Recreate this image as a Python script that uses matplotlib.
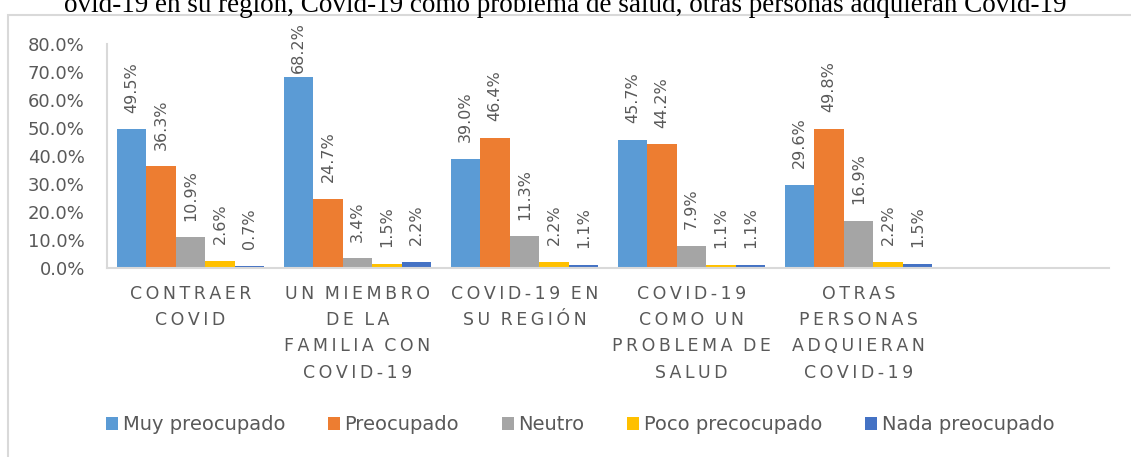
import numpy as np
import matplotlib.pyplot as plt
from matplotlib.patches import Rectangle
from matplotlib.ticker import FuncFormatter

# data (percent)
categories = ['CONTRAER\nCOVID',
              'UN MIEMBRO\nDE LA\nFAMILIA CON\nCOVID-19',
              'COVID-19 EN\nSU REGIÓN',
              'COVID-19\nCOMO UN\nPROBLEMA DE\nSALUD',
              'OTRAS\nPERSONAS\nADQUIERAN\nCOVID-19',
              '']
series_names = ['Muy preocupado', 'Preocupado', 'Neutro',
                'Poco precocupado', 'Nada preocupado']
muy = [49.5, 68.2, 39.0, 45.7, 29.6]
preoc = [36.3, 24.7, 46.4, 44.2, 49.8]
neutro = [10.9, 3.4, 11.3, 7.9, 16.9]
poco = [2.6, 1.5, 2.2, 1.1, 2.2]
nada = [0.7, 2.2, 1.1, 1.1, 1.5]
colors = ['#5B9BD5', '#ED7D31', '#A5A5A5', '#FFC000', '#4472C4']
title = 'ovid-19 en su región, Covid-19 como problema de salud, otras personas adquieran Covid-19'

TXT = '#595959'


def spaced(s):
    '''letter-spaced label like the original'''
    lines = []
    for line in s.split('\n'):
        lines.append('\u2009'.join(line.replace(' ', '\u2009')))
    return '\n'.join(lines)


fig = plt.figure(figsize=(11.31, 4.57), dpi=100)
ax = fig.add_axes([107/1131, 1-268/457, 1002/1131, 224/457])

values = [muy, preoc, neutro, poco, nada]
n = len(values)
w = 0.176
x = np.arange(len(muy))
for i, (vals, name, c) in enumerate(zip(values, series_names, colors)):
    pos = x - w*(n-1)/2 + i*w
    bars = ax.bar(pos, vals, w, color=c, label=name, edgecolor='none')
    for b, v in zip(bars, vals):
        # tall labels get pushed down to stay inside the chart, like excel does
        off = 12 if v < 60 else 3
        ax.annotate('%.1f%%' % v, (b.get_x() + b.get_width()/2, v),
                    xytext=(0, off), textcoords='offset points',
                    rotation=90, ha='center', va='bottom',
                    color=TXT, fontsize=11.5)

ax.set_xlim(-0.5, len(categories) - 0.5)
ax.set_ylim(0, 80)
ax.set_yticks(np.arange(0, 81, 10))
ax.yaxis.set_major_formatter(FuncFormatter(lambda v, p: '%.1f%%' % v))
ax.set_xticks(np.arange(len(categories)))
ax.set_xticklabels([spaced(c) for c in categories], color=TXT,
                   fontsize=12.5, linespacing=1.6, va='top')
ax.tick_params(axis='both', length=0, colors=TXT, labelsize=13)
ax.tick_params(axis='x', pad=12, labelsize=12.5)
ax.tick_params(axis='y', pad=16)
for sp in ['top', 'right']:
    ax.spines[sp].set_visible(False)
for sp in ['left', 'bottom']:
    ax.spines[sp].set_color('#D9D9D9')
    ax.spines[sp].set_linewidth(1.5)

leg = fig.legend(loc='center', bbox_to_anchor=(0.513, 1-425/457), ncol=5,
                 frameon=False, fontsize=14, handlelength=0.6,
                 handleheight=0.6, handletextpad=0.25, columnspacing=2.2)
for t in leg.get_texts():
    t.set_color(TXT)

# outer chart frame (cropped)
fig.patches.append(Rectangle((8/1131, -0.1), 1.2, 1.1 - 15/457,
                             transform=fig.transFigure, fill=False,
                             edgecolor='#D9D9D9', linewidth=1.5))

fig.text(0.5, 1-6/457, title, ha='center', va='center',
         family='Liberation Serif', fontsize=19.5, color='black')

fig.savefig('out.png', dpi=100)
